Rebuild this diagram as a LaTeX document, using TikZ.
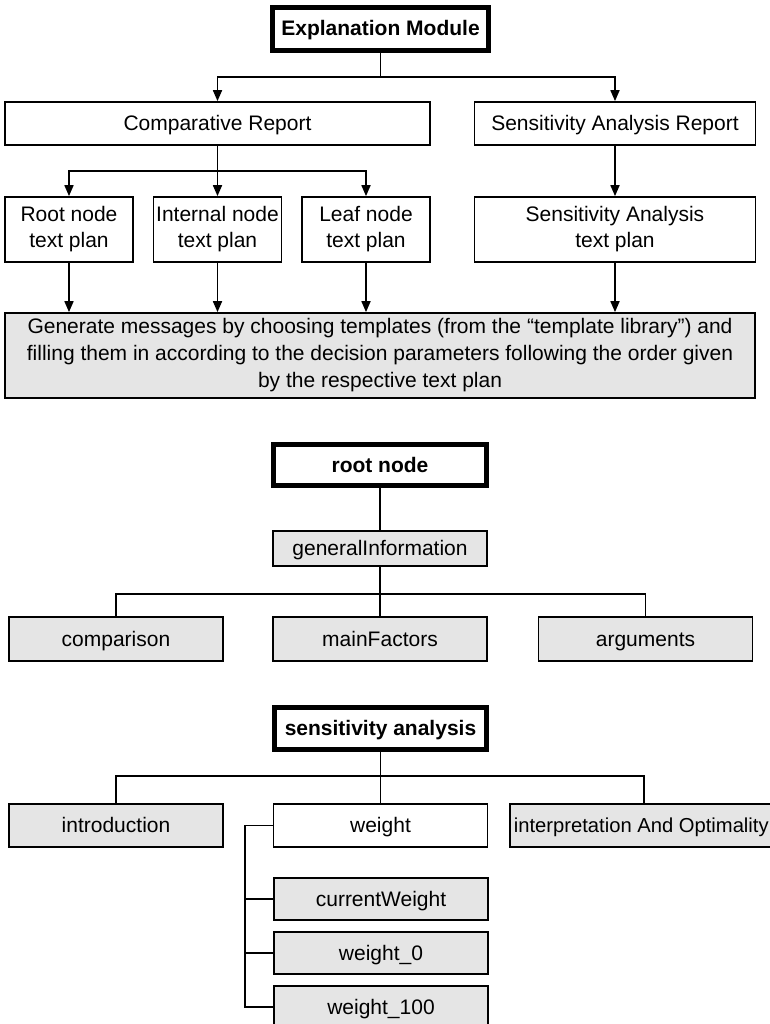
\documentclass[tikz,border=0pt]{standalone}
\usepackage{fontspec}
\setmainfont{Liberation Sans}
\usetikzlibrary{arrows.meta}
\begin{document}
\begin{tikzpicture}[x=1pt,y=-1pt,
  box/.style={draw, line width=1.7pt, inner sep=2pt, align=center,
    font=\fontsize{21}{26}\selectfont},
  one/.style={text height=16pt, text depth=2pt},
  grey/.style={box, fill=black!10},
  title/.style={box, one, line width=5pt, font=\fontsize{21}{26}\selectfont\bfseries},
  link/.style={line width=1.7pt},
  arr/.style={link, -{Triangle[length=11pt,width=9pt]}}]
\useasboundingbox (0,0) rectangle (770,1024);

% --- Explanation module overview ---
\node[title, minimum width=216pt, minimum height=43pt] (em) at (380.5,29) {Explanation Module};
\node[box, one, minimum width=425pt, minimum height=43pt] (cr) at (217.5,123.5) {Comparative Report};
\node[box, one, minimum width=281pt, minimum height=43pt] (sar) at (615,123.5) {Sensitivity Analysis Report};
\node[box, minimum width=128pt, minimum height=65pt] (rtp) at (69,229.5) {Root node\\text plan};
\node[box, minimum width=128pt, minimum height=65pt] (itp) at (217.5,229.5) {Internal node\\text plan};
\node[box, minimum width=128pt, minimum height=65pt] (ltp) at (366,229.5) {Leaf node\\text plan};
\node[box, minimum width=281pt, minimum height=65pt] (satp) at (615,229.5) {Sensitivity Analysis\\text plan};
\node[grey, minimum width=750pt, minimum height=85pt, font=\fontsize{21}{27}\selectfont] (gen) at (380,355.5)
  {Generate messages by choosing templates (from the “template library”) and\\
   filling them in according to the decision parameters following the order given\\
   by the respective text plan};

\coordinate (ej) at (380.5,77);
\draw[link] (em.south) -- (ej);
\draw[arr] (ej) -| (cr.north);
\draw[arr] (ej) -| (sar.north);
\coordinate (cj) at (217.5,171);
\draw[link] (cr.south) -- (cj);
\draw[arr] (cj) -| (rtp.north);
\draw[arr] (cj) -- (itp.north);
\draw[arr] (cj) -| (ltp.north);
\draw[arr] (sar.south) -- (satp.north);
\draw[arr] (rtp.south) -- (rtp.south |- gen.north);
\draw[arr] (itp.south) -- (itp.south |- gen.north);
\draw[arr] (ltp.south) -- (ltp.south |- gen.north);
\draw[arr] (satp.south) -- (satp.south |- gen.north);

% --- Root node text plan ---
\node[title, minimum width=213pt, minimum height=41pt] (root) at (380,465) {root node};
\node[grey, one, minimum width=214pt, minimum height=35pt] (gi) at (380,548.5) {generalInformation};
\node[grey, one, minimum width=214pt, minimum height=44pt] (cmp) at (116,639) {comparison};
\node[grey, one, minimum width=214pt, minimum height=44pt] (mf) at (380,639) {mainFactors};
\node[grey, one, minimum width=214pt, minimum height=44pt] (args) at (645.5,639) {arguments};

\draw[link] (root.south) -- (gi.north);
\coordinate (gj) at (380,594);
\draw[link] (gi.south) -- (gj);
\draw[link] (gj) -| (cmp.north);
\draw[link] (gj) -- (mf.north);
\draw[link] (gj) -| (args.north);

% --- Sensitivity analysis text plan ---
\node[title, minimum width=212pt, minimum height=42pt] (sa) at (380.5,728.5) {sensitivity analysis};
\node[grey, one, minimum width=214pt, minimum height=43pt] (intro) at (116,825.5) {introduction};
\node[box, one, minimum width=214pt, minimum height=43pt] (wt) at (380.5,825.5) {weight};
\node[grey, one, anchor=west, minimum height=43pt, inner xsep=4pt,
  font=\fontsize{20.2}{26}\selectfont] (interp) at (509,825.5) {interpretation And Optimality};
\node[grey, one, minimum width=214pt, minimum height=42pt] (cw) at (381,899) {currentWeight};
\node[grey, one, minimum width=214pt, minimum height=42pt] (w0) at (381,953) {weight\_0};
\node[grey, one, minimum width=214pt, minimum height=42pt] (w100) at (381,1007) {weight\_100};

\coordinate (sj) at (380.5,776);
\coordinate (ic) at (644,804);
\draw[link] (sa.south) -- (sj);
\draw[link] (sj) -| (intro.north);
\draw[link] (sj) -- (wt.north);
\draw[link] (sj) -| (ic);

\coordinate (bx) at (245,825.5);
\draw[link] (wt.west) -- (bx) |- (w100.west);
\draw[link] (bx |- cw.west) -- (cw.west);
\draw[link] (bx |- w0.west) -- (w0.west);
\end{tikzpicture}
\end{document}
